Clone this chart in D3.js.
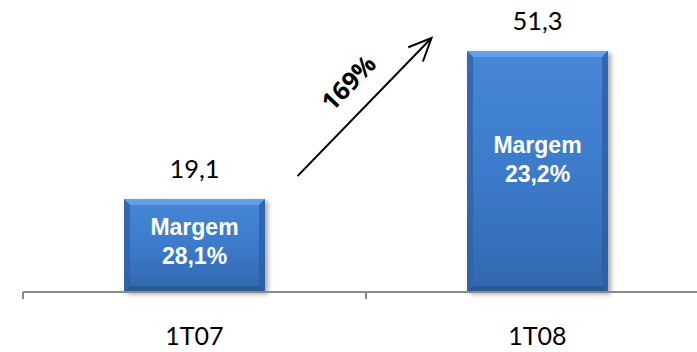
<!DOCTYPE html>
<html><head><meta charset="utf-8">
<script src="https://cdn.jsdelivr.net/npm/d3@7/dist/d3.min.js"></script>
<style>html,body{margin:0;padding:0;background:#fff;}svg{display:block;}</style>
</head><body>
<svg id="c" width="697" height="352"></svg>
<script>
const categories = ["1T07", "1T08"];
const values = [19.1, 51.3];
const valueLabels = ["19,1", "51,3"];
const marginLabels = ["28,1%", "23,2%"];
const marginTitle = "Margem";
const growthLabel = "169%";

const W = 697, H = 352;
const svg = d3.select("#c");
const baseY = 292;
const x = d3.scaleBand().domain(categories).range([23, 709]);
const y = d3.scaleLinear().domain([-1.1, 62.4]).range([baseY, 0]);
const barW = x.bandwidth() * 0.411;

const defs = svg.append("defs");
const g1 = defs.append("linearGradient").attr("id", "body").attr("x1", 0).attr("y1", 0).attr("x2", 0).attr("y2", 1);
g1.append("stop").attr("offset", 0).attr("stop-color", "#4787d8");
g1.append("stop").attr("offset", 0.5).attr("stop-color", "#3c7bcb");
g1.append("stop").attr("offset", 1).attr("stop-color", "#3267ae");
const f = defs.append("filter").attr("id", "sh").attr("x", "-20%").attr("y", "-20%").attr("width", "140%").attr("height", "140%");
f.append("feDropShadow").attr("dx", 3).attr("dy", 2).attr("stdDeviation", 2.5).attr("flood-color", "#000").attr("flood-opacity", 0.35);

const bars = svg.append("g");
categories.forEach((c, i) => {
  const bx = x(c) + (x.bandwidth() - barW) / 2;
  const by = y(values[i]);
  const bh = baseY - by;
  const g = bars.append("g");
  g.append("rect").attr("x", bx).attr("y", by).attr("width", barW).attr("height", bh)
    .attr("fill", "url(#body)").attr("filter", "url(#sh)");
  const e = 6;
  g.append("path").attr("d", `M${bx},${by}L${bx + barW},${by}L${bx + barW - e},${by + e}L${bx + e},${by + e}Z`)
    .attr("fill", "#6aa4ea").attr("opacity", 0.85);
  g.append("path").attr("d", `M${bx},${by}L${bx + e},${by + e}L${bx + e},${baseY - e}L${bx},${baseY}Z`)
    .attr("fill", "#2e63a8").attr("opacity", 0.8);
  g.append("path").attr("d", `M${bx + barW},${by}L${bx + barW - e},${by + e}L${bx + barW - e},${baseY - e}L${bx + barW},${baseY}Z`)
    .attr("fill", "#2d5f9f").attr("opacity", 0.8);
  g.append("path").attr("d", `M${bx},${baseY}L${bx + e},${baseY - e}L${bx + barW - e},${baseY - e}L${bx + barW},${baseY}Z`)
    .attr("fill", "#28568f").attr("opacity", 0.8);

  const cx = x(c) + x.bandwidth() / 2;
  const mid = by + bh * 0.45;
  g.append("text").attr("x", cx).attr("y", mid - 6).attr("text-anchor", "middle")
    .attr("font-family", "Liberation Sans, Arial, sans-serif").attr("font-weight", "bold")
    .attr("font-size", 23).attr("fill", "#fff").text(marginTitle);
  g.append("text").attr("x", cx).attr("y", mid + 23).attr("text-anchor", "middle")
    .attr("font-family", "Liberation Sans, Arial, sans-serif").attr("font-weight", "bold")
    .attr("font-size", 23).attr("fill", "#fff").text(marginLabels[i]);

  svg.append("text").attr("x", cx).attr("y", by - 21).attr("text-anchor", "middle")
    .attr("font-family", "Lato, sans-serif").attr("font-size", 25.5).attr("fill", "#000").text(valueLabels[i]);
  svg.append("text").attr("x", cx).attr("y", 345).attr("text-anchor", "middle")
    .attr("font-family", "Lato, sans-serif").attr("font-size", 25).attr("fill", "#000").text(c);
});

const ax = svg.append("g");
ax.append("line").attr("x1", x.range()[0]).attr("x2", x.range()[1]).attr("y1", baseY).attr("y2", baseY)
  .attr("stroke", "#8a8a8a").attr("stroke-width", 2);
const tickXs = categories.map(c => x(c)).concat([x.range()[1]]);
tickXs.forEach(t => {
  ax.append("line").attr("x1", t).attr("x2", t).attr("y1", baseY).attr("y2", baseY + 7)
    .attr("stroke", "#8a8a8a").attr("stroke-width", 2);
});

const x0 = x(categories[0]) + x.bandwidth() / 2 + 103, y0 = y(values[0]) - 23;
const x1 = x(categories[1]) + x.bandwidth() / 2 - 106, y1 = 38;
const ang = Math.atan2(y1 - y0, x1 - x0);
const ah = 25, aw = 0.42;
svg.append("line").attr("x1", x0).attr("y1", y0).attr("x2", x1).attr("y2", y1)
  .attr("stroke", "#000").attr("stroke-width", 2);
svg.append("path")
  .attr("d", `M${x1 - ah * Math.cos(ang - aw)},${y1 - ah * Math.sin(ang - aw)}L${x1},${y1}L${x1 - ah * Math.cos(ang + aw)},${y1 - ah * Math.sin(ang + aw)}`)
  .attr("fill", "none").attr("stroke", "#000").attr("stroke-width", 2);
svg.append("text").attr("transform", `translate(355,89) rotate(${ang * 180 / Math.PI})`)
  .attr("text-anchor", "middle").attr("font-family", "Open Sans, sans-serif").attr("font-weight", "bold")
  .attr("font-size", 25).attr("fill", "#000").text(growthLabel);
</script>
</body></html>
